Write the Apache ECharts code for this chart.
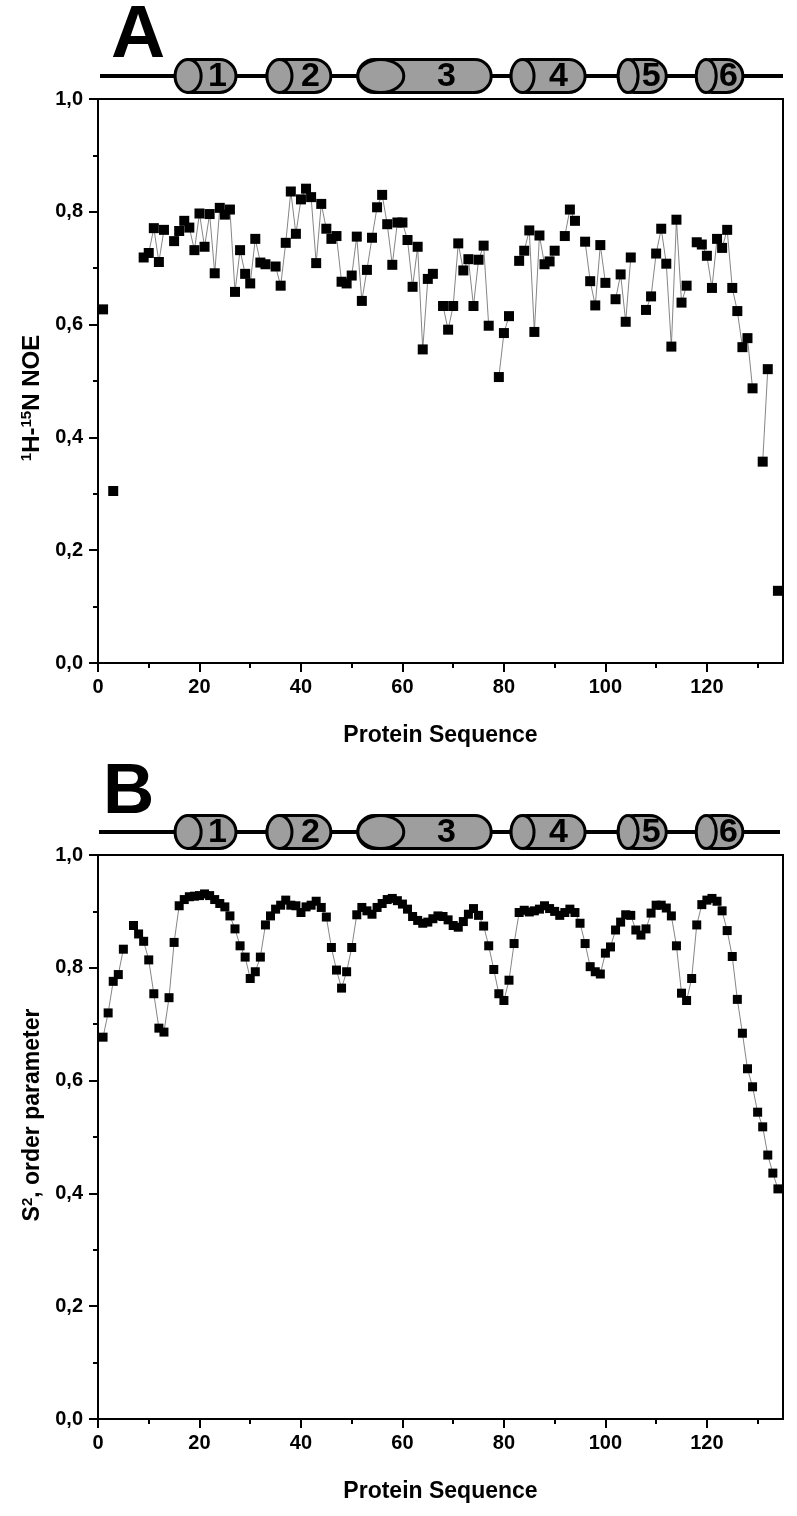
<!DOCTYPE html>
<html>
<head>
<meta charset="utf-8">
<style>
html,body{margin:0;padding:0;background:#fff;}
#c{width:797px;height:1516px;}
</style>
<script src="https://cdn.jsdelivr.net/npm/echarts@6/dist/echarts.min.js"></script>
</head>
<body>
<div id="c"></div>
<script>
// ---------------- data ----------------
const residues = [1,2,3,4,5,6,7,8,9,10,11,12,13,14,15,16,17,18,19,20,21,22,23,24,25,26,27,28,29,30,
31,32,33,34,35,36,37,38,39,40,41,42,43,44,45,46,47,48,49,50,51,52,53,54,55,56,57,58,59,60,
61,62,63,64,65,66,67,68,69,70,71,72,73,74,75,76,77,78,79,80,81,82,83,84,85,86,87,88,89,90,
91,92,93,94,95,96,97,98,99,100,101,102,103,104,105,106,107,108,109,110,111,112,113,114,115,116,117,118,119,120,
121,122,123,124,125,126,127,128,129,130,131,132,133,134];

// 1H-15N heteronuclear NOE (panel A); null = residue not measured
const noeValues = [0.627,null,0.305,null,null,null,null,null,0.719,0.727,0.771,0.711,0.768,null,0.748,0.766,0.784,0.772,0.732,0.797,
0.738,0.796,0.691,0.807,0.795,0.804,0.658,0.732,0.690,0.673,0.752,0.710,0.707,null,0.703,0.669,0.745,0.836,0.761,0.822,
0.841,0.826,0.709,0.814,0.770,0.752,0.757,0.676,0.673,0.687,0.756,0.642,0.697,0.754,0.808,0.830,0.778,0.706,0.781,0.781,
0.750,0.667,0.738,0.556,0.681,0.690,null,0.633,0.591,0.633,0.744,0.696,0.716,0.633,0.715,0.740,0.598,null,0.507,0.585,
0.615,null,0.713,0.731,0.767,0.587,0.758,0.707,0.712,0.731,null,0.757,0.804,0.784,null,0.747,0.677,0.634,0.741,0.674,
null,0.645,0.689,0.605,0.719,null,null,0.626,0.650,0.726,0.770,0.708,0.561,0.786,0.639,0.669,null,0.746,0.742,0.722,
0.665,0.752,0.736,0.768,0.665,0.624,0.560,0.576,0.487,null,0.357,0.521,null,0.128];

// S2 order parameter (panel B)
const s2Values = [0.677,0.720,0.776,0.788,0.833,null,0.875,0.860,0.847,0.814,0.754,0.693,0.686,0.747,0.845,0.910,0.921,0.926,0.927,0.928,
0.931,0.928,0.921,0.914,0.908,0.892,0.869,0.839,0.819,0.781,0.793,0.819,0.876,0.892,0.904,0.911,0.920,0.911,0.910,0.898,
0.908,0.911,0.918,0.907,0.890,0.836,0.796,0.764,0.793,0.836,0.894,0.907,0.901,0.895,0.907,0.914,0.921,0.923,0.919,0.913,
0.904,0.891,0.884,0.879,0.881,0.887,0.892,0.891,0.885,0.875,0.872,0.882,0.895,0.905,0.893,0.874,0.839,0.797,0.754,0.742,
0.778,0.843,0.898,0.902,0.899,0.901,0.904,0.910,0.905,0.900,0.893,0.898,0.904,0.898,0.879,0.843,0.802,0.793,0.789,0.826,
0.837,0.867,0.881,0.894,0.893,0.867,0.858,0.869,0.897,0.911,0.911,0.906,0.892,0.839,0.755,0.742,0.781,0.876,0.912,0.920,
0.923,0.918,0.901,0.866,0.820,0.744,0.684,0.621,0.589,0.544,0.518,0.468,0.436,0.408];

// axis ticks / labels
const xMajorTicks = [0,20,40,60,80,100,120];
const xMinorTicks = [10,30,50,70,90,110,130];

// secondary structure (helices), residue ranges
const helixLabels = ['1','2','3','4','5','6'];
const helixStart = [15.2, 33.3, 51.2, 81.4, 102.5, 117.9];
const helixEnd   = [27.2, 45.9, 77.5, 96.0, 112.0, 127.1];

const panelLetters = ['A','B'];

// ---------------- chart ----------------
const FONT = "'Liberation Sans Narrow','Arial Narrow','Liberation Sans',Arial,sans-serif";
const chart = echarts.init(document.getElementById('c'), null, {renderer:'canvas'});

function pairs(vals){ return residues.map((r,i)=> [r, vals[i]===null ? '-' : vals[i]]); }
const fmtY = v => v.toFixed(1).replace('.', ',');

function gridDef(top){
  return {left:98, top:top, width:685, height:564, show:true, borderColor:'#000', borderWidth:2, backgroundColor:'transparent'};
}
function mainX(grid){
  return {
    type:'value', gridIndex:grid, min:0, max:135, position:'bottom',
    axisLine:{show:true, lineStyle:{color:'#000', width:2}},
    axisTick:{show:true, inside:false, length:9, lineStyle:{color:'#000', width:2}, customValues:xMajorTicks},
    axisLabel:{show:true, margin:14, color:'#000', fontSize:20, fontWeight:'bold', fontFamily:FONT, customValues:xMajorTicks},
    splitLine:{show:false},
    name:'Protein Sequence', nameLocation:'middle', nameGap:61,
    nameTextStyle:{color:'#000', fontSize:23, fontWeight:'bold', fontFamily:FONT}
  };
}
function minorX(grid){
  return {
    type:'value', gridIndex:grid, min:0, max:135, position:'bottom',
    axisLine:{show:false},
    axisTick:{show:true, inside:false, length:5, lineStyle:{color:'#000', width:2}, customValues:xMinorTicks},
    axisLabel:{show:false}, splitLine:{show:false}
  };
}
function yAx(grid, name, pad, size){
  return {
    type:'value', gridIndex:grid, min:0, max:1, interval:0.2,
    axisLine:{show:true, lineStyle:{color:'#000', width:2}},
    axisTick:{show:true, inside:false, length:9, lineStyle:{color:'#000', width:2}},
    minorTick:{show:true, splitNumber:2, length:5, lineStyle:{color:'#000', width:2}},
    axisLabel:{margin:15, color:'#000', fontSize:20, fontWeight:'bold', fontFamily:FONT, formatter:fmtY},
    splitLine:{show:false}, minorSplitLine:{show:false},
    name:name, nameLocation:'middle', nameGap:50, nameRotate:90,
    nameTextStyle:{color:'#000', fontSize:size, fontWeight:'bold', fontFamily:FONT, padding:pad,
      rich:{sup:{fontSize:15, fontWeight:'bold', fontFamily:FONT, color:'#000', verticalAlign:'top', padding:[0,0,10,0]},
            t:{fontSize:size, fontWeight:'bold', fontFamily:FONT, color:'#000'}}}
  };
}
function lineSeries(xi, yi, vals, size){
  return {
    type:'line', xAxisIndex:xi, yAxisIndex:yi, data:pairs(vals),
    symbol:'rect', symbolSize:size, showSymbol:true, showAllSymbol:true, connectNulls:false,
    itemStyle:{color:'#000'}, lineStyle:{color:'#666', width:0.8},
    emphasis:{disabled:true}, silent:true, animation:false
  };
}

chart.setOption({
  animation:false,
  backgroundColor:'#fff',
  grid:[gridDef(99), gridDef(855)],
  xAxis:[mainX(0), minorX(0), mainX(1), minorX(1)],
  yAxis:[yAx(0, '{sup|1}{t|H-}{sup|15}{t|N NOE}', [0,34,0,0], 24),
         yAx(1, '{t|S}{sup|2}{t|, order parameter}', [0,0,0,44], 23)],
  series:[lineSeries(0,0,noeValues,10), lineSeries(2,1,s2Values,9)]
});

// ---------------- helix header (drawn from residue ranges via the x axis) ----------------
const ellipseW = [26, 25, 46, 23, 20, 20];
function header(axisIndex, lineY, lineX0, lineX1, letter, letterX, letterY, letterSize){
  const els = [];
  els.push({type:'line', shape:{x1:lineX0, y1:lineY, x2:lineX1, y2:lineY}, style:{stroke:'#000', lineWidth:4}, z:10});
  const h = 33;
  for(let i=0;i<helixLabels.length;i++){
    const x0 = chart.convertToPixel({xAxisIndex:axisIndex}, helixStart[i]);
    const x1 = chart.convertToPixel({xAxisIndex:axisIndex}, helixEnd[i]);
    const ew = ellipseW[i];
    els.push({type:'rect', shape:{x:x0, y:lineY-h/2, width:x1-x0, height:h, r:h/2},
      style:{fill:'#9e9e9e', stroke:'#000', lineWidth:3}, z:11});
    els.push({type:'ellipse', shape:{cx:x0+ew/2, cy:lineY, rx:ew/2, ry:h/2},
      style:{fill:'#9e9e9e', stroke:'#000', lineWidth:3}, z:12});
    els.push({type:'text', x:(x0+ew+x1)/2 - 1, y:lineY+1,
      style:{text:helixLabels[i], fill:'#000', font:"bold 34px "+FONT, align:'center', verticalAlign:'middle'}, z:13});
  }
  els.push({type:'text', x:letterX, y:letterY,
    style:{text:letter, fill:'#000', font:"bold "+letterSize+"px 'Liberation Sans',Arial,sans-serif", align:'left', verticalAlign:'middle'}, z:13});
  return els;
}
chart.setOption({graphic:{elements:[
  ...header(0, 76, 100, 783, panelLetters[0], 111, 36, 75),
  ...header(2, 832, 99, 780, panelLetters[1], 103, 793, 71)
]}});
</script>
</body>
</html>
